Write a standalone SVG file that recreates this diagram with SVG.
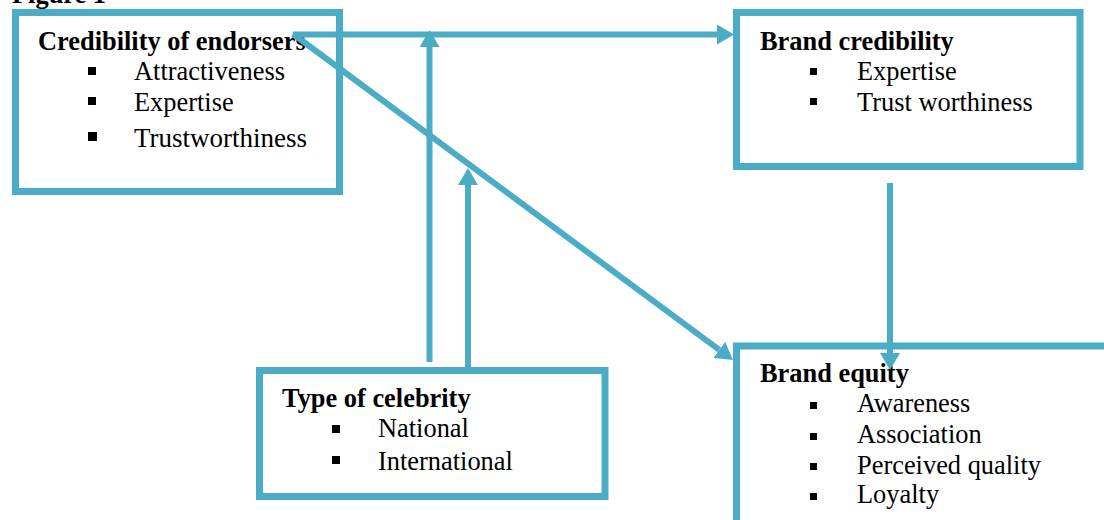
<svg xmlns="http://www.w3.org/2000/svg" width="1104" height="520" viewBox="0 0 1104 520">
<style>
.box{fill:none;stroke:#4BACC6;stroke-width:7}
.conn{fill:none;stroke:#4BACC6;stroke-width:6}
.t{font-family:"Liberation Serif","Times New Roman",serif;font-size:26.4px;fill:#000}
.b{font-weight:bold}
.bl{fill:#000}
</style>
<defs>
<marker id="ah" markerUnits="userSpaceOnUse" markerWidth="17" markerHeight="20" viewBox="0 0 17 20" refX="0" refY="10" orient="auto">
<path d="M0,0 L17,10 L0,20 z" fill="#4BACC6"/>
</marker>
</defs>
<rect width="1104" height="520" fill="#fff"/>
<text class="t b" x="12" y="3">Figure 1</text>
<g id="endorsers">
<rect class="box" x="15.5" y="12.5" width="324" height="179"/>
<text class="t b" x="38" y="50">Credibility of endorsers</text>
<rect class="bl" x="88" y="67" width="8" height="8"/>
<text class="t" x="134" y="80">Attractiveness</text>
<rect class="bl" x="88" y="97" width="8" height="8"/>
<text class="t" x="134" y="111">Expertise</text>
<rect class="bl" x="88" y="132" width="9" height="9"/>
<text class="t" x="134" y="147" style="font-size:27px">Trustworthiness</text>
</g>
<g id="brand-credibility">
<rect class="box" x="736.5" y="12.5" width="343.5" height="154"/>
<text class="t b" x="760" y="50">Brand credibility</text>
<rect class="bl" x="810" y="68" width="7" height="7"/>
<text class="t" x="857" y="80">Expertise</text>
<rect class="bl" x="810" y="98" width="7" height="7"/>
<text class="t" x="857" y="111">Trust worthiness</text>
</g>
<g id="celebrity">
<rect class="box" x="259.5" y="370.5" width="345.5" height="126"/>
<text class="t b" x="282" y="407">Type of celebrity</text>
<rect class="bl" x="332" y="425" width="8" height="8"/>
<text class="t" x="378" y="437">National</text>
<rect class="bl" x="332" y="456" width="8" height="8"/>
<text class="t" x="378" y="470">International</text>
</g>
<g id="brand-equity">
<rect class="box" x="736.5" y="346" width="400" height="200"/>
<text class="t b" x="760" y="382">Brand equity</text>
<rect class="bl" x="810" y="402" width="7" height="7"/>
<text class="t" x="857" y="412">Awareness</text>
<rect class="bl" x="810" y="433" width="7" height="7"/>
<text class="t" x="857" y="443">Association</text>
<rect class="bl" x="810" y="463" width="7" height="7"/>
<text class="t" x="857" y="474">Perceived quality</text>
<rect class="bl" x="810" y="493" width="7" height="7"/>
<text class="t" x="857" y="503">Loyalty</text>
</g>
<g id="connectors">
<line class="conn" x1="293" y1="34.5" x2="717" y2="34.5" marker-end="url(#ah)"/>
<line class="conn" x1="293" y1="34" x2="719.3" y2="349.9" marker-end="url(#ah)"/>
<line class="conn" x1="429.5" y1="362" x2="429.5" y2="47" marker-end="url(#ah)"/>
<line class="conn" x1="468" y1="372" x2="468" y2="185" marker-end="url(#ah)"/>
<line class="conn" x1="890" y1="183" x2="890" y2="353" marker-end="url(#ah)"/>
</g>
</svg>
